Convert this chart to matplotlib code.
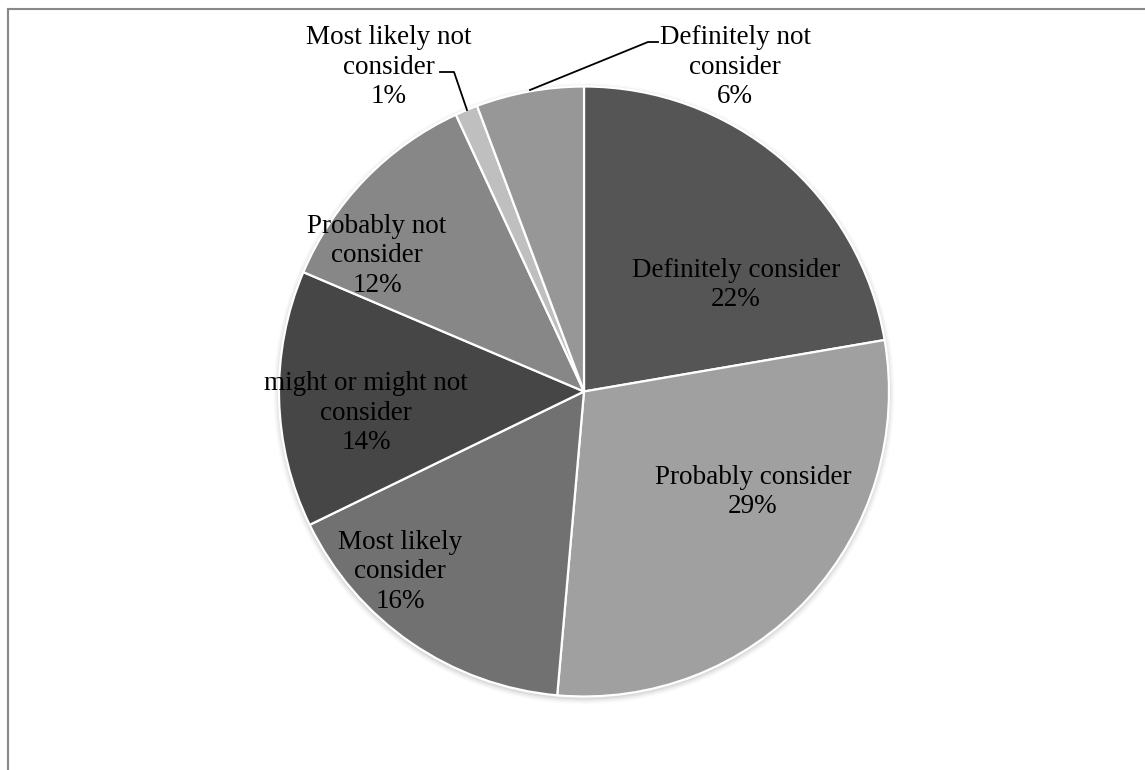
import matplotlib
matplotlib.use("Agg")
import matplotlib.pyplot as plt
from matplotlib.patches import Circle

categories = ["Definitely consider", "Probably consider", "Most likely\nconsider",
              "might or might not\nconsider", "Probably not\nconsider",
              "Most likely not\nconsider", "Definitely not\nconsider"]
values = [22.3, 29.1, 16.4, 13.6, 11.7, 1.2, 5.7]
colors = ["#555555", "#a0a0a0", "#717171", "#464646", "#878787", "#bfbfbf", "#979797"]

W, H = 1145, 770
fig = plt.figure(figsize=(W / 100, H / 100), dpi=100)
ax = fig.add_axes([0, 0, 1, 1])

cx, cy, r = 584, H - 391.5, 305

# soft shadow
for i, a in enumerate([0.05, 0.04, 0.03, 0.02]):
    ax.add_patch(Circle((cx, cy - 2), r + 1 + i * 1.5, color="black", alpha=a, lw=0, zorder=0))

ax.pie(values, colors=colors, startangle=90, counterclock=False,
       center=(cx, cy), radius=r,
       wedgeprops=dict(edgecolor="white", linewidth=1.6), frame=True)
ax.set_xlim(0, W)
ax.set_ylim(0, H)
ax.set_aspect("equal")
ax.axis("off")

font = dict(family="Liberation Serif", fontsize=19.5, color="black",
            ha="center", va="center", linespacing=1.24)

total = sum(values)
# label centers in pixel coords (x, y from top)
label_pos = [(736, 285), (753, 492), (400, 572), (366, 413), (377, 256), (389, 67), (735, 67)]
for cat, v, (px, py) in zip(categories, values, label_pos):
    ax.text(px, H - py, f"{cat}\n{round(100 * v / total):.0f}%", **font)

# leader lines
ax.plot([440, 454, 467], [H - 72, H - 72, H - 110], color="black", lw=1.3)
ax.plot([530, 648, 658], [H - 90, H - 42, H - 42], color="black", lw=1.3)

# chart frame (top and left edges visible)
ax.plot([8, W], [H - 9, H - 9], color="#888888", lw=1.5, clip_on=False)
ax.plot([8, 8], [H - 9, 0], color="#888888", lw=1.5, clip_on=False)

fig.savefig("out.png", dpi=100)
